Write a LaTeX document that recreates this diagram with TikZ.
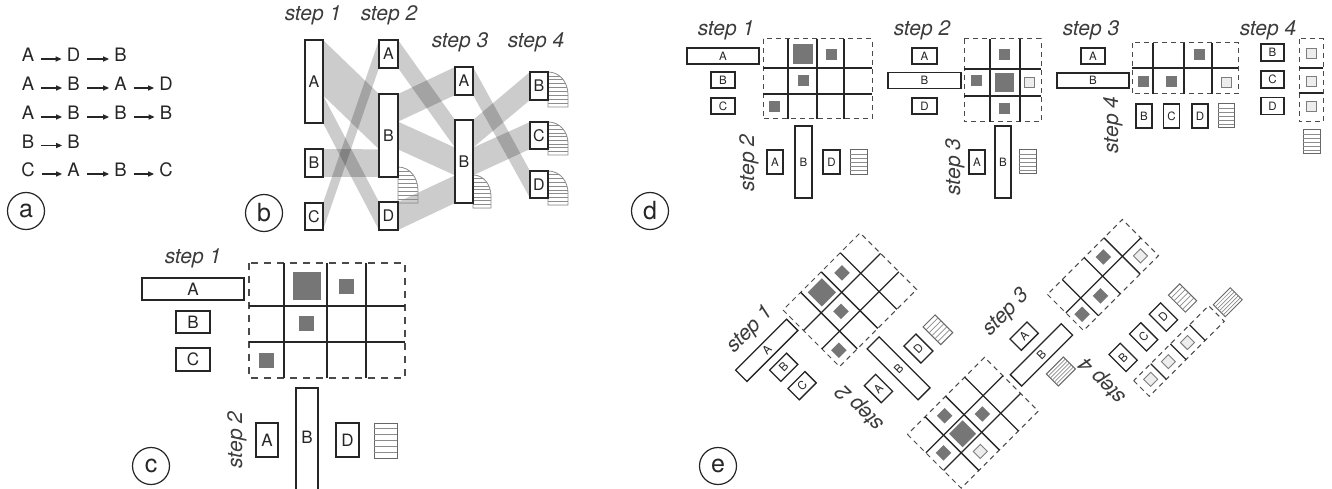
\documentclass[tikz,border=0pt]{standalone}
\usepackage{fontspec}
\setmainfont{TeX Gyre Heros}
\usetikzlibrary{calc,arrows.meta}
\definecolor{ink}{HTML}{262626}
\definecolor{sqc}{HTML}{767676}
\definecolor{lsqc}{HTML}{EDEDED}
\definecolor{hatc}{HTML}{8C8C8C}
\definecolor{dshc}{HTML}{4A4A4A}
\pgfdeclarelayer{back}
\pgfdeclarelayer{bg}
\pgfsetlayers{back,bg,main}
\tikzset{
  bxs/.style={draw=ink, line width=1.3pt, fill=white, inner sep=0pt, outer sep=0pt, text=ink},
  hbxs/.style={draw=ink!70, line width=1pt, fill=white, inner sep=0pt, outer sep=0pt},
  hatline/.style={draw=hatc, line width=0.7pt},
  lbl/.style={font=\fontsize{21}{21}\selectfont\itshape, text=ink!90, inner sep=0pt},
  seq/.style={font=\fontsize{18.5}{18.5}\selectfont, inner sep=0pt, anchor=base, text=ink},
  arr/.style={draw=ink, line width=1.2pt, -{Triangle[length=6pt,width=5pt]}},
  circ/.style={circle, draw=ink, line width=1.2pt, minimum size=37pt, inner sep=0pt, font=\fontsize{25}{25}\selectfont, text=ink},
  dashd/.style={draw=dshc, line width=1pt, dash pattern=on 5pt off 4pt},
  dashc/.style={draw=dshc, line width=1.2pt, dash pattern=on 7pt off 6pt},
  gridd/.style={draw=ink, line width=1.3pt},
  ribbon/.style={fill=black, fill opacity=0.2},
  capline/.style={draw=hatc, line width=0.8pt}
}
% box: name, x, y, w, h, text, fontsize
\newcommand\bxn[7]{\node[bxs, minimum width=#4pt, minimum height=#5pt, font=\fontsize{#7}{#7}\selectfont] (#1) at (#2,#3) {#6};}
% hatched box (lines along the box's x axis)
\newcommand\hbx[5]{\node[hbxs, minimum width=#4pt, minimum height=#5pt] (#1) at (#2,#3) {};
  \foreach \f in {0.1667,0.3333,0.5,0.6667,0.8333}
    \draw[hatline] ($(#1.north west)!\f!(#1.south west)$) -- ($(#1.north east)!\f!(#1.south east)$);}
\newcommand\SQ[3]{\fill[sqc] ({#1-#3/2},{#2-#3/2}) rectangle ++(#3,#3);}
\newcommand\LSQ[3]{\filldraw[fill=lsqc, draw=ink!60, line width=0.9pt] ({#1-#3/2},{#2-#3/2}) rectangle ++(#3,#3);}
% ribbon from node #1 (fractions #2..#3) to node #4 (fractions #5..#6)
\newcommand\rib[6]{\fill[ribbon] ($(#1.north east)!#2!(#1.south east)$) -- ($(#4.north west)!#5!(#4.south west)$) -- ($(#4.north west)!#6!(#4.south west)$) -- ($(#1.north east)!#3!(#1.south east)$) -- cycle;}
% end cap: x0, ytop, ybot, w
\newcommand\finshape[4]{%
  \begin{scope}
    \clip (#1,#2) .. controls ({#1+0.6*#4},#2) and ({#1+#4},{#2+0.3*(#3-#2)}) .. ({#1+#4},{#2+0.65*(#3-#2)}) -- ({#1+#4},#3) -- (#1,#3) -- cycle;
    \foreach \k in {1,...,9} \draw[hatline, line width=0.6pt] (#1,{#2+\k*(#3-#2)/9}) -- ++(#4,0);
  \end{scope}
  \draw[capline] (#1,#2) .. controls ({#1+0.6*#4},#2) and ({#1+#4},{#2+0.3*(#3-#2)}) .. ({#1+#4},{#2+0.65*(#3-#2)}) -- ({#1+#4},#3) -- (#1,#3) -- cycle;}
% panel d, step-1 group (reused in panel e)
\newcommand\dgone[1]{%
  \node[lbl] (#1s1) at (726,30) {step 1};
  \bxn{#1r1A}{723}{56}{72}{16}{A}{11.5}
  \bxn{#1r1B}{723}{80}{24}{16}{B}{11.5}
  \bxn{#1r1C}{723}{106}{24}{16}{C}{11.5}
  \draw[dashd] (763,39) rectangle (872,119);
  \foreach \x in {788,817,844} \draw[gridd] (\x,39) -- (\x,119);
  \foreach \y in {68,94} \draw[gridd] (763,\y) -- (872,\y);
  \SQ{803}{54}{20} \SQ{831}{54.5}{11} \SQ{803}{81}{11} \SQ{774}{107}{11}
  \node[lbl, rotate=90] (#1s2) at (749,163) {step 2};
  \bxn{#1c2A}{775}{162}{16}{24}{A}{11.5}
  \bxn{#1c2B}{803.5}{162}{17}{72}{B}{11.5}
  \bxn{#1c2D}{831.5}{162}{17}{24}{D}{11.5}
  \hbx{#1c2H}{858.5}{162.5}{17}{25}
}
\begin{document}
\begin{tikzpicture}[x=1pt,y=-1pt]
\useasboundingbox (0,0) rectangle (1332,489);
\begin{pgfonlayer}{back}
\fill[white] (0,0) rectangle (1332,489);
\end{pgfonlayer}

% ---------------- panel a ----------------
\node[seq] (a11) at (28,62) {A}; \node[seq] (a12) at (73.5,62) {D}; \node[seq] (a13) at (120.5,62) {B};
\node[seq] (a21) at (28,91) {A}; \node[seq] (a22) at (73.5,91) {B}; \node[seq] (a23) at (120.5,91) {A}; \node[seq] (a24) at (166,91) {D};
\node[seq] (a31) at (28,120) {A}; \node[seq] (a32) at (73.5,120) {B}; \node[seq] (a33) at (120.5,120) {B}; \node[seq] (a34) at (166,120) {B};
\node[seq] (a41) at (28,148.5) {B}; \node[seq] (a42) at (73.5,148.5) {B};
\node[seq] (a51) at (28,177) {C}; \node[seq] (a52) at (73.5,177) {A}; \node[seq] (a53) at (120.5,177) {B}; \node[seq] (a54) at (166,177) {C};
\foreach \p/\q in {a11/a12,a12/a13,a21/a22,a22/a23,a23/a24,a31/a32,a32/a33,a33/a34,a41/a42,a51/a52,a52/a53,a53/a54}
  \draw[arr] ([xshift=7pt,yshift=3pt]\p.base east) -- ([xshift=-5pt,yshift=3pt]\q.base west);
\node[circ] (la) at (26,211) {a};

% ---------------- panel b ----------------
\node[lbl] (bs1) at (313,15) {step 1};
\node[lbl] (bs2) at (389,15) {step 2};
\node[lbl] (bs3) at (460,42) {step 3};
\node[lbl] (bs4) at (536,42) {step 4};
\bxn{b1A}{314}{81.5}{18}{83}{A}{16}
\bxn{b1B}{314}{163}{18}{28}{B}{16}
\bxn{b1C}{314}{216.5}{18}{27}{C}{16}
\bxn{b2A}{388.5}{54}{19}{28}{A}{16}
\bxn{b2B}{388.5}{135.5}{19}{83}{B}{16}
\bxn{b2D}{388.5}{216}{19}{28}{D}{16}
\bxn{b3A}{464}{81}{18}{28}{A}{16}
\bxn{b3B}{464}{161.5}{18}{83}{B}{16}
\bxn{b4B}{539}{86}{18}{28}{B}{16}
\bxn{b4C}{539}{135.5}{18}{27}{C}{16}
\bxn{b4D}{539}{184.5}{18}{27}{D}{16}
\begin{pgfonlayer}{bg}
  \rib{b1A}{0}{0.667}{b2B}{0}{0.667}
  \rib{b1A}{0.667}{1}{b2D}{0}{1}
  \rib{b1B}{0}{1}{b2B}{0.667}{1}
  \rib{b1C}{0}{1}{b2A}{0}{1}
  \rib{b2A}{0}{1}{b3B}{0}{0.333}
  \rib{b2B}{0}{0.333}{b3A}{0}{1}
  \rib{b2B}{0.333}{0.667}{b3B}{0.333}{0.667}
  \rib{b2D}{0}{1}{b3B}{0.667}{1}
  \rib{b3A}{0}{1}{b4D}{0}{1}
  \rib{b3B}{0}{0.333}{b4B}{0}{1}
  \rib{b3B}{0.333}{0.667}{b4C}{0}{1}
  \finshape{398}{167}{203}{20}
  \finshape{473}{175}{208}{18}
  \finshape{548}{72}{107}{20}
  \finshape{548}{122}{155}{20}
  \finshape{548}{171}{205}{20}
\end{pgfonlayer}
\node[circ] (lb) at (264,213) {b};

% ---------------- panel c ----------------
\node[lbl] (cs1) at (193,258) {step 1};
\bxn{cA}{193}{289}{102}{22}{A}{17}
\bxn{cB}{193}{322}{34}{22}{B}{17}
\bxn{cC}{193}{359.5}{34}{23}{C}{17}
\draw[dashc] (249,263) rectangle (405,378);
\foreach \x in {284,327,366} \draw[gridd] (\x,263) -- (\x,378);
\foreach \y in {306,342} \draw[gridd] (249,\y) -- (405,\y);
\SQ{307}{285.5}{28} \SQ{346.5}{286}{15} \SQ{306.5}{323.5}{15} \SQ{266.5}{360}{15}
\node[lbl, rotate=90] (cs2) at (237,440) {step 2};
\bxn{c2A}{267}{440}{22}{34}{A}{17}
\node[bxs, minimum width=22pt, minimum height=105pt] (c2B) at (307,440.5) {};
\node[font=\fontsize{17}{17}\selectfont, text=ink, inner sep=0pt] (c2Bt) at (307,437) {B};
\bxn{c2D}{347.5}{440}{23}{34}{D}{17}
\hbx{c2H}{385.5}{440.5}{23}{35}
\node[circ] (lc) at (151,466) {c};

% ---------------- panel d ----------------
\dgone{d}
% step 2 group
\node[lbl] (ds2b) at (922,30) {step 2};
\bxn{dr2A}{924.5}{56}{25}{16}{A}{11.5}
\bxn{dr2B}{924.5}{80.5}{73}{16}{B}{11.5}
\bxn{dr2D}{924.5}{106}{25}{16}{D}{11.5}
\draw[dashd] (964,39) rectangle (1041,122);
\foreach \x in {990,1020} \draw[gridd] (\x,39) -- (\x,122);
\foreach \y in {69,96} \draw[gridd] (964,\y) -- (1041,\y);
\SQ{1004}{55}{11} \SQ{976.5}{81}{11} \SQ{1004.5}{82.5}{19} \LSQ{1029}{82.5}{10} \SQ{1004}{109}{11}
\node[lbl, rotate=90] (ds3) at (955,167) {step 3};
\bxn{dc3A}{977}{162}{16}{24}{A}{11.5}
\bxn{dc3B}{1003}{162}{16}{72}{B}{11.5}
\hbx{dc3H}{1027.5}{162}{17}{24}
% step 3 group
\node[lbl] (ds3b) at (1091,30) {step 3};
\bxn{dr3A}{1093}{56}{24}{16}{A}{11.5}
\bxn{dr3B}{1093}{80.5}{72}{15}{B}{11.5}
\draw[dashd] (1132,43) rectangle (1238,94);
\foreach \x in {1153,1184,1212} \draw[gridd] (\x,43) -- (\x,94);
\draw[gridd] (1132,68) -- (1238,68);
\SQ{1199}{55}{11} \SQ{1143.5}{81.5}{11} \SQ{1171.5}{81.5}{11} \LSQ{1226}{82}{10}
\node[lbl, rotate=90] (ds4) at (1113,125) {step 4};
\bxn{dc4B}{1144}{116}{16}{24}{B}{11.5}
\bxn{dc4C}{1171.5}{116}{16}{24}{C}{11.5}
\bxn{dc4D}{1200}{116}{16}{24}{D}{11.5}
\hbx{dc4H}{1226}{116}{16}{24}
% step 4 group
\node[lbl] (ds4b) at (1268,30) {step 4};
\bxn{dr4B}{1272.5}{52.5}{23}{17}{B}{11.5}
\bxn{dr4C}{1272.5}{79.5}{23}{17}{C}{11.5}
\bxn{dr4D}{1272.5}{106}{23}{17}{D}{11.5}
\draw[dashd] (1299,39) rectangle (1323,122);
\foreach \y in {68,93} \draw[gridd] (1299,\y) -- (1323,\y);
\LSQ{1311}{53}{10} \LSQ{1311}{81}{10} \LSQ{1311}{106}{10}
\hbx{dc5H}{1311.5}{142}{17}{24}
\node[circ] (ld) at (650,211) {d};

% ---------------- panel e ----------------
\begin{scope}[shift={(783,310)}, rotate=45, transform shape]
  \begin{scope}[shift={(-763,-39)}]
    \dgone{e}
  \end{scope}
  % matrix 2 (transposed)
  \draw[dashd] (0,176) rectangle (109,252);
  \foreach \a in {25,54,81} \draw[gridd] (\a,176) -- (\a,252);
  \foreach \b in {202,227} \draw[gridd] (0,\b) -- (109,\b);
  \SQ{39.5}{189}{11} \SQ{12.5}{214.5}{11} \SQ{39.5}{214.5}{19} \SQ{67.5}{214.5}{11} \LSQ{39.5}{239.5}{10}
  % step 3 labels
  \node[lbl] (es3) at (156,160) {step 3};
  \bxn{ec3A}{152}{189}{24}{16}{A}{11.5}
  \bxn{ec3B}{151}{214.5}{72}{16}{B}{11.5}
  \hbx{ec3H}{153}{240}{24}{17}
  % matrix 3
  \draw[dashd] (198,176) rectangle (304,227);
  \foreach \a in {219,250,278} \draw[gridd] (\a,176) -- (\a,227);
  \draw[gridd] (198,202) -- (304,202);
  \SQ{264}{189}{11} \SQ{208.5}{214.5}{11} \SQ{234.5}{214.5}{11} \LSQ{291}{214.5}{10}
  % step 4 labels
  \node[lbl, rotate=90] (es4) at (177,276) {step 4};
  \bxn{ec4B}{207}{274}{16}{24}{B}{11.5}
  \bxn{ec4C}{236}{274}{16}{24}{C}{11.5}
  \bxn{ec4D}{264}{274}{16}{24}{D}{11.5}
  \hbx{ec4H}{291}{274}{16}{24}
  % end column
  \draw[dashd] (198,298) rectangle (304,320);
  \foreach \a in {222,250,277} \draw[gridd] (\a,298) -- (\a,320);
  \LSQ{211}{309}{10} \LSQ{236}{309}{10} \LSQ{263}{309}{10}
  \hbx{ec5H}{320}{309}{24}{17}
\end{scope}
\node[circ] (le) at (718,466) {e};
\end{tikzpicture}
\end{document}
